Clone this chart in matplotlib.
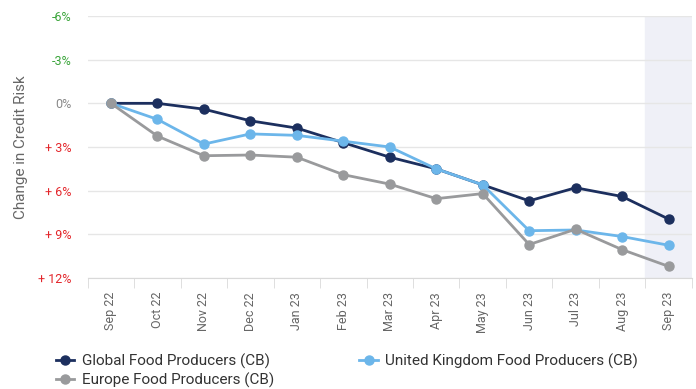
import matplotlib.pyplot as plt
import numpy as np

plt.rcParams['font.family'] = ['Roboto', 'DejaVu Sans']

months = ['Sep 22', 'Oct 22', 'Nov 22', 'Dec 22', 'Jan 23', 'Feb 23', 'Mar 23',
          'Apr 23', 'May 23', 'Jun 23', 'Jul 23', 'Aug 23', 'Sep 23']
global_fp = [0.0, 0.0, 0.4, 1.2, 1.7, 2.7, 3.7, 4.5, 5.6, 6.7, 5.8, 6.4, 7.95]
uk_fp = [0.0, 1.1, 2.8, 2.1, 2.2, 2.6, 3.0, 4.5, 5.6, 8.75, 8.7, 9.15, 9.75]
europe_fp = [0.0, 2.25, 3.6, 3.55, 3.7, 4.9, 5.55, 6.55, 6.2, 9.7, 8.65, 10.05, 11.2]

yticks = [-6, -3, 0, 3, 6, 9, 12]
ytick_labels = ['-6%', '-3%', '0%', '+ 3%', '+ 6%', '+ 9%', '+ 12%']

fig = plt.figure(figsize=(6.96, 3.89), dpi=100)
ax = fig.add_axes([0.126, 0.2853, 0.868, 0.6736])

x = np.arange(len(months))
# latest month highlighted
ax.axvspan(11.5, 12.5, color='#eff0f7', zorder=0)

series = [
    ('Global Food Producers (CB)', global_fp, '#1c2f5e'),
    ('United Kingdom Food Producers (CB)', uk_fp, '#6cb6ea'),
    ('Europe Food Producers (CB)', europe_fp, '#999a9c'),
]
lines = {}
for name, vals, col in series:
    lines[name], = ax.plot(x, vals, color=col, lw=2, marker='o', ms=6.5,
                           label=name, zorder=3)

ax.set_xlim(-0.5, 12.5)
ax.set_ylim(12, -6)
ax.set_yticks(yticks)
ax.set_yticklabels(ytick_labels, fontsize=9)
for lab, v in zip(ax.get_yticklabels(), yticks):
    lab.set_color('#3aa53a' if v < 0 else ('#888888' if v == 0 else '#e3262b'))
ax.tick_params(axis='y', length=0, pad=12)
ax.grid(axis='y', color='#e6e6e6', lw=1)
ax.set_axisbelow(True)

ax.set_xticks(x)
ax.set_xticklabels(months, rotation=90, fontsize=9, color='#666666')
ax.tick_params(axis='x', length=0, pad=10)
ax.set_xticks(np.arange(-0.5, 13, 1), minor=True)
ax.tick_params(axis='x', which='minor', length=7.5, color='#d9d9d9')

for s in ['top', 'right', 'left']:
    ax.spines[s].set_visible(False)
ax.spines['bottom'].set_color('#d9d9d9')

ax.set_ylabel('Change in Credit Risk', fontsize=11, color='#666666')
ax.yaxis.set_label_coords(-0.099, 0.5)

# column-wise fill: Global / Europe on the left, UK on the right
order = ['Global Food Producers (CB)', 'Europe Food Producers (CB)',
         'United Kingdom Food Producers (CB)']
fig.legend([lines[n] for n in order], order, loc='upper left',
           bbox_to_anchor=(0.08, 0.092), ncol=2, frameon=False, fontsize=11,
           handlelength=1.2, handletextpad=0.5, columnspacing=5.6,
           labelspacing=0.25, borderaxespad=0, borderpad=0, labelcolor='#333333')

fig.savefig('out.png', dpi=100)
